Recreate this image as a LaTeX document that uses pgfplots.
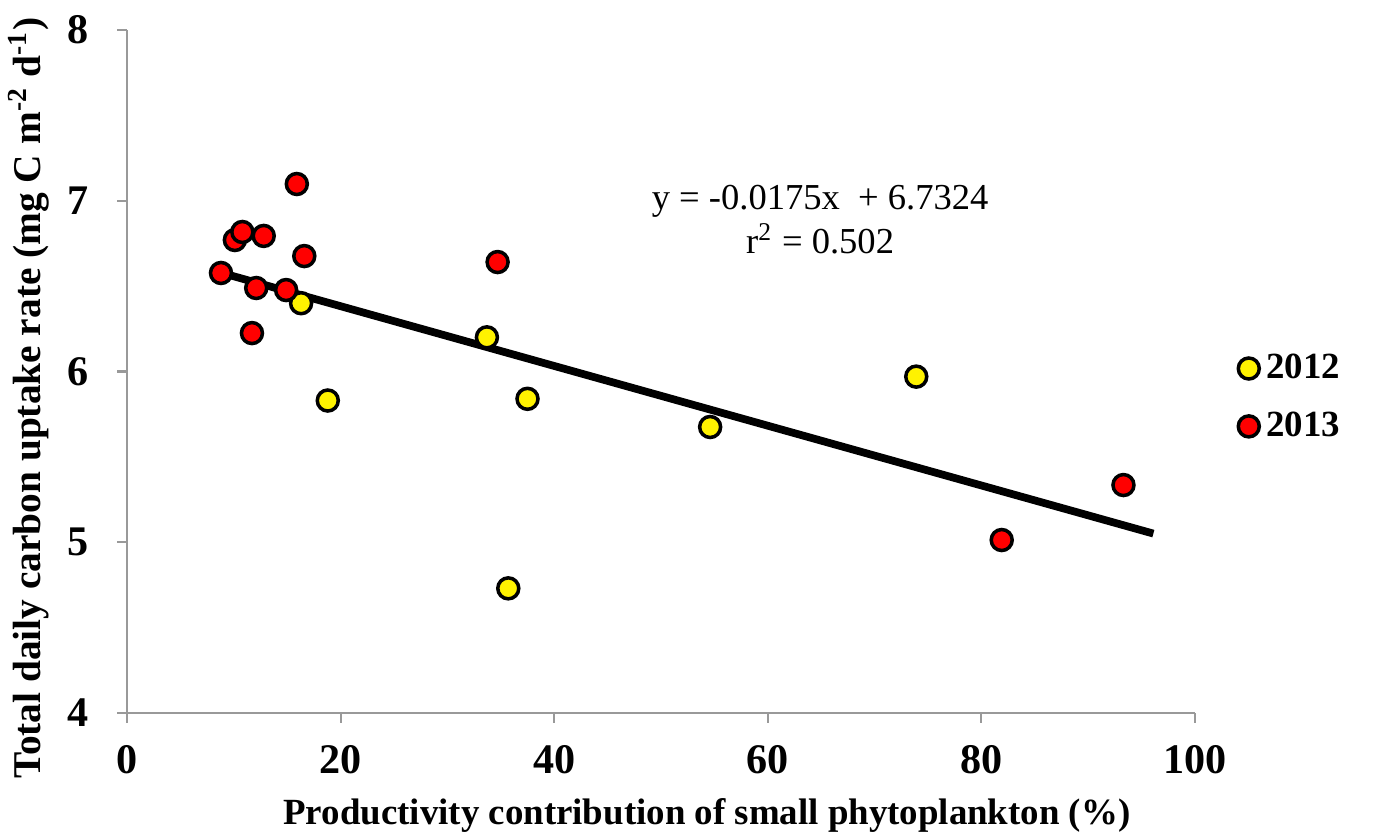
\documentclass[border=0pt]{standalone}
\usepackage{fontspec}
\setmainfont{Liberation Serif}
\usepackage{pgfplots}
\pgfplotsset{compat=1.18}

\begin{document}
\begin{tikzpicture}
\begin{axis}[
    name=ax,
    scale only axis,
    width=106.8mm,
    height=68.3mm,
    xmin=0, xmax=100,
    ymin=4, ymax=8,
    xtick={0,20,...,100},
    ytick={4,5,6,7,8},
    axis x line*=bottom,
    axis y line*=left,
    axis line style={gray!80, line width=0.6pt, -},
    tick style={gray!80, line width=0.6pt},
    tick align=outside,
    major tick length=1mm,
    /pgf/number format/assume math mode=true,
    ticklabel style={font=\bfseries\fontsize{12}{14}\selectfont},
    xticklabel style={yshift=-1mm},
    yticklabel style={xshift=-1.6mm},
    xlabel={Productivity contribution of small phytoplankton (\%)},
    ylabel={Total daily carbon uptake rate (mg C m\textsuperscript{-2} d\textsuperscript{-1})},
    xlabel style={font=\bfseries\fontsize{10.5}{12}\selectfont,
        at={(axis description cs:0.543,-0.15)}, anchor=center},
    ylabel style={font=\bfseries\fontsize{11.2}{13}\selectfont,
        at={(axis description cs:-0.092,0.461)}, anchor=center},
    clip=false,
    legend style={at={(1.030,0.462)}, anchor=west, draw=none, fill=none,
        font=\bfseries\fontsize{10.5}{12}\selectfont, row sep=1.4mm,
        /tikz/every even column/.append style={column sep=0.2mm}},
    legend cell align=left,
]
\addplot[only marks, mark=*, mark size=1.05mm,
    mark options={fill=yellow, draw=black, line width=1pt}] coordinates {
    (16.3,6.40) (18.8,5.83) (33.7,6.20) (37.5,5.84)
    (35.7,4.73) (54.6,5.675) (73.9,5.97)
};
\addplot[only marks, mark=*, mark size=1.05mm,
    mark options={fill=red, draw=black, line width=1pt}] coordinates {
    (8.8,6.577) (10.1,6.77) (10.8,6.817) (12.8,6.794) (15.9,7.098)
    (16.6,6.676) (12.1,6.489) (14.9,6.477) (11.7,6.225) (34.7,6.641)
    (81.9,5.013) (93.3,5.335)
};
\addplot[black, line width=2.2pt, forget plot] coordinates {
    (8.1,6.5907) (96.1,5.0507)
};
\legend{2012, 2013}
\node[align=center, font=\fontsize{10.4}{12.4}\selectfont]
    at (axis cs:64.9,6.89) {y = -0.0175x  \ + 6.7324\\r\textsuperscript{2} = 0.502};
\end{axis}
\pgfresetboundingbox
\path ([xshift=-12.7mm, yshift=-12.2mm]ax.south west) rectangle ([xshift=18mm, yshift=3mm]ax.north east);
\end{tikzpicture}
\end{document}
